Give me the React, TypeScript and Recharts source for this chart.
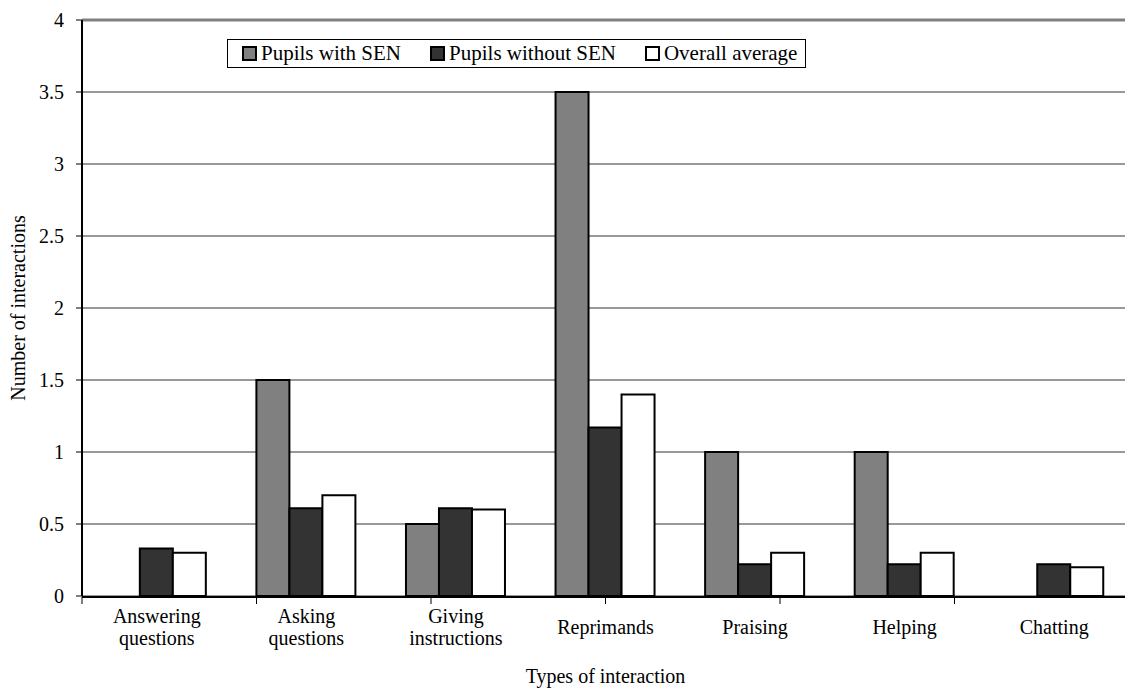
import React from 'react';
import { BarChart, Bar, XAxis, YAxis, CartesianGrid, ReferenceLine, Legend, Label } from 'recharts';

const categories = ['Answering questions', 'Asking questions', 'Giving instructions', 'Reprimands', 'Praising', 'Helping', 'Chatting'];
const pupilsWithSEN = [0, 1.5, 0.5, 3.5, 1, 1, 0];
const pupilsWithoutSEN = [0.33, 0.61, 0.61, 1.17, 0.22, 0.22, 0.22];
const overallAverage = [0.3, 0.7, 0.6, 1.4, 0.3, 0.3, 0.2];
const yTicks = [0, 0.5, 1, 1.5, 2, 2.5, 3, 3.5, 4];
const boundaryTicks = [0, 1, 2, 3, 4, 5, 6, 7];
const seriesKeys = ['sen', 'nosen', 'avg'];
const seriesNames = ['Pupils with SEN', 'Pupils without SEN', 'Overall average'];
const seriesColors = ['#808080', '#333333', '#ffffff'];

const data = categories.map((name, i) => ({
  name,
  sen: pupilsWithSEN[i],
  nosen: pupilsWithoutSEN[i],
  avg: overallAverage[i],
}));

const FONT = '"Liberation Serif", "Times New Roman", serif';
const FS = 20;

const CatTick = (props: any) => {
  const { x, y, payload } = props;
  const lines = String(payload.value).split(' ');
  const base = lines.length === 1 ? [38] : [27, 49];
  return (
    <g>
      {lines.map((l, i) => (
        <text key={i} x={x} y={y + base[i]} textAnchor="middle" fontSize={FS} fontFamily={FONT} fill="#000">
          {l}
        </text>
      ))}
    </g>
  );
};

const renderLegend = () => (
  <div
    style={{
      display: 'flex',
      alignItems: 'center',
      border: '1px solid #000',
      background: '#fff',
      height: 27,
      padding: '0 8px 0 14px',
      fontFamily: FONT,
      fontSize: 21,
      color: '#000',
      whiteSpace: 'nowrap',
    }}
  >
    {seriesNames.map((n, i) => (
      <div key={n} style={{ display: 'flex', alignItems: 'center', marginLeft: i === 0 ? 0 : 29 }}>
        <div style={{ width: 11, height: 11, border: '2px solid #000', background: seriesColors[i], marginRight: 4 }} />
        <span>{n}</span>
      </div>
    ))}
  </div>
);

export default function App() {
  return (
    <div style={{ width: 1125, height: 682, fontFamily: FONT }}>
      <BarChart
        width={1125}
        height={682}
        data={data}
        margin={{ top: 12, right: 3, bottom: 92, left: 0 }}
        barCategoryGap="16.6%"
        barGap={0}
      >
        <CartesianGrid xAxisId="cat" vertical={false} stroke="#333" strokeWidth={1} />
        <XAxis
          xAxisId="grid"
          type="number"
          domain={[0, 7]}
          ticks={boundaryTicks}
          tickFormatter={() => ''}
          tickSize={7}
          tickLine={{ stroke: '#000', strokeWidth: 1 }}
          axisLine={{ stroke: '#000', strokeWidth: 2 }}
          height={1}
          allowDataOverflow
          interval={0}
        />
        <XAxis
          xAxisId="cat"
          dataKey="name"
          axisLine={false}
          tickLine={false}
          tickSize={0}
          tickMargin={0}
          height={1}
          interval={0}
          tick={<CatTick />}
        >
          <Label
            content={(p: any) => {
              const vb = p.viewBox;
              return (
                <text x={vb.x + vb.width / 2} y={vb.y + 87} textAnchor="middle" fontSize={FS} fontFamily={FONT} fill="#000">
                  Types of interaction
                </text>
              );
            }}
          />
        </XAxis>
        <YAxis
          domain={[0, 4]}
          ticks={yTicks}
          interval={0}
          width={74}
          tickSize={6}
          tickMargin={12}
          axisLine={{ stroke: '#000', strokeWidth: 2 }}
          tickLine={{ stroke: '#000' }}
          tick={{ fontSize: FS, fontFamily: FONT, fill: '#000' }}
        >
          <Label
            content={(p: any) => {
              const vb = p.viewBox;
              const cx = vb.x + 9.5;
              const cy = vb.y + vb.height / 2;
              return (
                <text
                  x={cx}
                  y={cy}
                  transform={`rotate(-90, ${cx}, ${cy})`}
                  textAnchor="middle"
                  dominantBaseline="central"
                  fontSize={FS}
                  fontFamily={FONT}
                  fill="#000"
                >
                  Number of interactions
                </text>
              );
            }}
          />
        </YAxis>
        <YAxis
          yAxisId="r"
          orientation="right"
          domain={[0, 4]}
          width={1}
          tick={false}
          tickLine={false}
          axisLine={{ stroke: '#808080', strokeWidth: 3 }}
        />
        <ReferenceLine xAxisId="cat" y={4} stroke="#808080" strokeWidth={3} />
        <Legend
          layout="vertical"
          verticalAlign="middle"
          align="center"
          content={renderLegend}
          wrapperStyle={{ top: 31, left: 219, width: 'auto', height: 'auto' }}
        />
        {seriesKeys.map((k, i) => (
          <Bar
            key={k}
            xAxisId="cat"
            dataKey={k}
            name={seriesNames[i]}
            fill={seriesColors[i]}
            stroke="#000"
            strokeWidth={2}
            isAnimationActive={false}
          />
        ))}
      </BarChart>
    </div>
  );
}
